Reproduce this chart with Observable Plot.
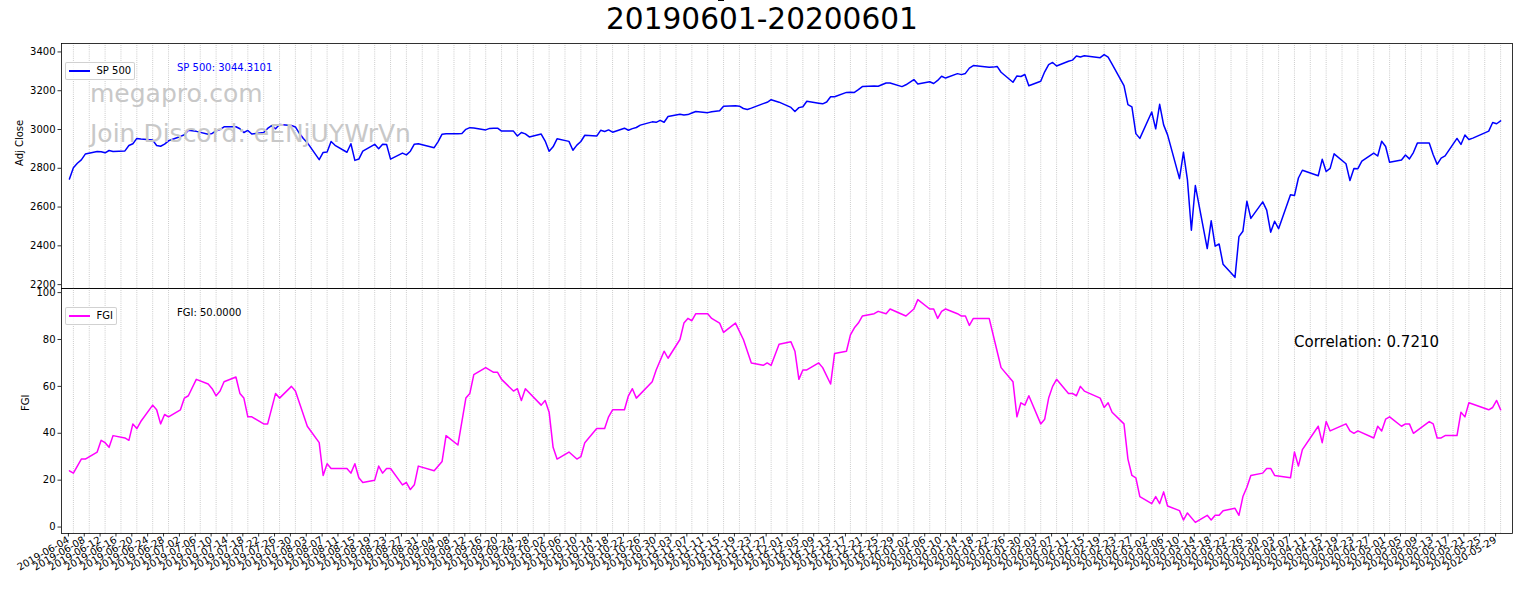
<!DOCTYPE html>
<html>
<head>
<meta charset="utf-8">
<script src="https://cdn.jsdelivr.net/npm/d3@7"></script>
<script src="https://cdn.jsdelivr.net/npm/@observablehq/plot@0.6"></script>
<style>
  html, body { margin: 0; padding: 0; background: #fff; }
  #fig { position: relative; width: 1536px; height: 604px; overflow: hidden; font-family: "DejaVu Sans", sans-serif; }
  .abs { position: absolute; white-space: nowrap; line-height: 1; }
  .legend { position: absolute; border: 1px solid rgba(204,204,204,0.9); border-radius: 2px; background: rgba(255,255,255,0.8); box-sizing: border-box; }
  .legend .ln { position: absolute; left: 3px; width: 21px; height: 2px; }
  .legend .tx { position: absolute; left: 31px; font-size: 10px; line-height: 1; color: #000; }
  .wm { color: #c8c8c8; font-size: 25px; }
  svg { overflow: visible; }
</style>
</head>
<body>
<div id="fig">
  <div class="abs" style="left:717.5px;top:0;width:6.5px;height:1.3px;background:#000"></div>
  <div class="abs" id="title" style="left:606px;top:5px;font-size:29.6px;color:#000"></div>
  <div id="top" style="position:absolute;left:0;top:43px"></div>
  <div id="bottom" style="position:absolute;left:0;top:288px"></div>
  <div class="abs wm" style="left:90px;top:81.3px">megapro.com</div>
  <div class="abs wm" style="left:90px;top:121.3px">Join Discord: eENjUYWrVn</div>
  <div class="abs" id="spNote" style="left:177px;top:62.5px;font-size:10px;color:#0000ff"></div>
  <div class="abs" id="fgiNote" style="left:177px;top:307.5px;font-size:10px;color:#000"></div>
  <div class="abs" id="corrNote" style="left:1294px;top:334.6px;font-size:15px;color:#000"></div>
  <div class="legend" style="left:64.5px;top:62px;width:70px;height:18px">
    <div class="ln" style="top:7px;background:#0000ff"></div>
    <div class="tx" style="top:3.2px">SP 500</div>
  </div>
  <div class="legend" style="left:64.5px;top:307px;width:52px;height:18px">
    <div class="ln" style="top:7px;background:#ff00ff"></div>
    <div class="tx" style="top:3.2px">FGI</div>
  </div>
</div>
<script>
// ---------------- data ----------------
const spDates = [
"2019-06-03","2019-06-04","2019-06-05","2019-06-06","2019-06-07","2019-06-10","2019-06-11","2019-06-12","2019-06-13","2019-06-14",
"2019-06-17","2019-06-18","2019-06-19","2019-06-20","2019-06-21","2019-06-24","2019-06-25","2019-06-26","2019-06-27","2019-06-28",
"2019-07-01","2019-07-02","2019-07-03","2019-07-05","2019-07-08","2019-07-09","2019-07-10","2019-07-11","2019-07-12","2019-07-15",
"2019-07-16","2019-07-17","2019-07-18","2019-07-19","2019-07-22","2019-07-23","2019-07-24","2019-07-25","2019-07-26","2019-07-29",
"2019-07-30","2019-07-31","2019-08-01","2019-08-02","2019-08-05","2019-08-06","2019-08-07","2019-08-08","2019-08-09","2019-08-12",
"2019-08-13","2019-08-14","2019-08-15","2019-08-16","2019-08-19","2019-08-20","2019-08-21","2019-08-22","2019-08-23","2019-08-26",
"2019-08-27","2019-08-28","2019-08-29","2019-08-30","2019-09-03","2019-09-04","2019-09-05","2019-09-06","2019-09-09","2019-09-10",
"2019-09-11","2019-09-12","2019-09-13","2019-09-16","2019-09-17","2019-09-18","2019-09-19","2019-09-20","2019-09-23","2019-09-24",
"2019-09-25","2019-09-26","2019-09-27","2019-09-30","2019-10-01","2019-10-02","2019-10-03","2019-10-04","2019-10-07","2019-10-08",
"2019-10-09","2019-10-10","2019-10-11","2019-10-14","2019-10-15","2019-10-16","2019-10-17","2019-10-18","2019-10-21","2019-10-22",
"2019-10-23","2019-10-24","2019-10-25","2019-10-28","2019-10-29","2019-10-30","2019-10-31","2019-11-01","2019-11-04","2019-11-05",
"2019-11-06","2019-11-07","2019-11-08","2019-11-11","2019-11-12","2019-11-13","2019-11-14","2019-11-15","2019-11-18","2019-11-19",
"2019-11-20","2019-11-21","2019-11-22","2019-11-25","2019-11-26","2019-11-27","2019-11-29","2019-12-02","2019-12-03","2019-12-04",
"2019-12-05","2019-12-06","2019-12-09","2019-12-10","2019-12-11","2019-12-12","2019-12-13","2019-12-16","2019-12-17","2019-12-18",
"2019-12-19","2019-12-20","2019-12-23","2019-12-24","2019-12-26","2019-12-27","2019-12-30","2019-12-31","2020-01-02","2020-01-03",
"2020-01-06","2020-01-07","2020-01-08","2020-01-09","2020-01-10","2020-01-13","2020-01-14","2020-01-15","2020-01-16","2020-01-17",
"2020-01-21","2020-01-22","2020-01-23","2020-01-24","2020-01-27","2020-01-28","2020-01-29","2020-01-30","2020-01-31","2020-02-03",
"2020-02-04","2020-02-05","2020-02-06","2020-02-07","2020-02-10","2020-02-11","2020-02-12","2020-02-13","2020-02-14","2020-02-18",
"2020-02-19","2020-02-20","2020-02-21","2020-02-24","2020-02-25","2020-02-26","2020-02-27","2020-02-28","2020-03-02","2020-03-03",
"2020-03-04","2020-03-05","2020-03-06","2020-03-09","2020-03-10","2020-03-11","2020-03-12","2020-03-13","2020-03-16","2020-03-17",
"2020-03-18","2020-03-19","2020-03-20","2020-03-23","2020-03-24","2020-03-25","2020-03-26","2020-03-27","2020-03-30","2020-03-31",
"2020-04-01","2020-04-02","2020-04-03","2020-04-06","2020-04-07","2020-04-08","2020-04-09","2020-04-13","2020-04-14","2020-04-15",
"2020-04-16","2020-04-17","2020-04-20","2020-04-21","2020-04-22","2020-04-23","2020-04-24","2020-04-27","2020-04-28","2020-04-29",
"2020-04-30","2020-05-01","2020-05-04","2020-05-05","2020-05-06","2020-05-07","2020-05-08","2020-05-11","2020-05-12","2020-05-13",
"2020-05-14","2020-05-15","2020-05-18","2020-05-19","2020-05-20","2020-05-21","2020-05-22","2020-05-26","2020-05-27","2020-05-28",
"2020-05-29"];
const spClose = [
2744.45,2803.27,2826.15,2843.49,2873.34,2886.73,2885.72,2879.84,2891.64,2886.98,
2889.67,2917.75,2926.46,2954.18,2950.46,2945.35,2917.38,2913.78,2924.92,2941.76,
2964.33,2973.01,2995.82,2990.41,2975.95,2979.63,2993.07,2999.91,3013.77,3014.30,
3004.04,2984.42,2995.11,2976.61,2985.03,3005.47,3019.56,3003.67,3025.86,3020.97,
3013.18,2980.38,2953.56,2932.05,2844.74,2881.77,2883.98,2938.09,2918.65,2882.70,
2926.32,2840.60,2847.60,2888.68,2923.65,2900.51,2924.43,2922.95,2847.11,2878.38,
2869.16,2887.94,2924.58,2926.46,2906.27,2937.78,2976.00,2978.71,2978.43,2979.39,
3000.93,3009.57,3007.39,2997.96,3005.70,3006.73,3006.79,2992.07,2991.78,2966.60,
2984.87,2977.62,2961.79,2976.74,2940.25,2887.61,2910.63,2952.01,2938.79,2893.06,
2919.40,2938.13,2970.27,2966.15,2995.68,2989.69,2997.95,2986.20,3006.72,2995.99,
3004.52,3010.29,3022.55,3039.42,3036.89,3046.77,3037.56,3066.91,3078.27,3074.62,
3076.78,3085.18,3093.08,3087.01,3091.84,3094.04,3096.63,3120.46,3122.03,3120.18,
3108.46,3103.54,3110.29,3133.64,3140.52,3153.63,3140.98,3113.87,3093.20,3112.76,
3117.43,3145.91,3135.96,3132.52,3141.63,3168.57,3168.80,3191.45,3192.52,3191.14,
3205.37,3221.22,3224.01,3223.38,3239.91,3240.02,3221.29,3230.78,3257.85,3234.85,
3246.28,3237.18,3253.05,3274.70,3265.35,3288.13,3283.15,3289.29,3316.81,3329.62,
3320.79,3321.75,3325.54,3295.47,3243.63,3276.24,3273.40,3283.66,3225.52,3248.92,
3297.59,3334.69,3345.78,3327.71,3352.09,3357.75,3379.45,3373.94,3380.16,3370.29,
3386.15,3373.23,3337.75,3225.89,3128.21,3116.39,2978.76,2954.22,3090.23,3003.37,
3130.12,3023.94,2972.37,2746.56,2882.23,2741.38,2480.64,2711.02,2386.13,2529.19,
2398.10,2409.39,2304.92,2237.40,2447.33,2475.56,2630.07,2541.47,2626.65,2584.59,
2470.50,2526.90,2488.65,2663.68,2659.41,2749.98,2789.82,2761.63,2846.06,2783.36,
2799.55,2874.56,2823.16,2736.56,2799.31,2797.80,2836.74,2878.48,2863.39,2939.51,
2912.43,2830.71,2842.74,2868.44,2848.42,2881.19,2929.80,2930.32,2870.12,2820.00,
2852.50,2863.70,2953.91,2922.94,2971.61,2948.51,2955.45,2991.77,3036.13,3029.73,
3044.3101];

const fgiDates = [
"2019-06-03","2019-06-04","2019-06-06","2019-06-07","2019-06-10","2019-06-11","2019-06-12","2019-06-13","2019-06-14","2019-06-17",
"2019-06-18","2019-06-19","2019-06-20","2019-06-21","2019-06-24","2019-06-25","2019-06-26","2019-06-27","2019-06-28","2019-07-01",
"2019-07-02","2019-07-03","2019-07-05","2019-07-08","2019-07-09","2019-07-10","2019-07-11","2019-07-12","2019-07-15","2019-07-16",
"2019-07-17","2019-07-18","2019-07-19","2019-07-22","2019-07-23","2019-07-25","2019-07-26","2019-07-29","2019-07-30","2019-08-02",
"2019-08-05","2019-08-06","2019-08-07","2019-08-08","2019-08-12","2019-08-13","2019-08-14","2019-08-15","2019-08-16","2019-08-19",
"2019-08-20","2019-08-21","2019-08-22","2019-08-23","2019-08-26","2019-08-27","2019-08-28","2019-08-29","2019-08-30","2019-09-03",
"2019-09-05","2019-09-06","2019-09-09","2019-09-11","2019-09-12","2019-09-13","2019-09-16","2019-09-18","2019-09-19","2019-09-20",
"2019-09-23","2019-09-24","2019-09-25","2019-09-26","2019-09-30","2019-10-01","2019-10-02","2019-10-03","2019-10-04","2019-10-07",
"2019-10-09","2019-10-10","2019-10-11","2019-10-14","2019-10-16","2019-10-17","2019-10-18","2019-10-21","2019-10-22","2019-10-23",
"2019-10-24","2019-10-28","2019-10-29","2019-10-31","2019-11-01","2019-11-04","2019-11-05","2019-11-06","2019-11-07","2019-11-08",
"2019-11-11","2019-11-12","2019-11-14","2019-11-15","2019-11-18","2019-11-20","2019-11-22","2019-11-25","2019-11-26","2019-11-27",
"2019-11-29","2019-12-02","2019-12-03","2019-12-04","2019-12-05","2019-12-06","2019-12-09","2019-12-10","2019-12-12","2019-12-13",
"2019-12-16","2019-12-17","2019-12-18","2019-12-19","2019-12-20","2019-12-23","2019-12-24","2019-12-26","2019-12-27","2019-12-31",
"2020-01-02","2020-01-03","2020-01-06","2020-01-07","2020-01-08","2020-01-09","2020-01-10","2020-01-13","2020-01-14","2020-01-15",
"2020-01-16","2020-01-17","2020-01-21","2020-01-23","2020-01-24","2020-01-27","2020-01-28","2020-01-29","2020-01-30","2020-01-31",
"2020-02-03","2020-02-04","2020-02-05","2020-02-06","2020-02-07","2020-02-10","2020-02-11","2020-02-12","2020-02-13","2020-02-14",
"2020-02-18","2020-02-19","2020-02-20","2020-02-21","2020-02-24","2020-02-25","2020-02-26","2020-02-27","2020-02-28","2020-03-02",
"2020-03-03","2020-03-04","2020-03-05","2020-03-06","2020-03-09","2020-03-10","2020-03-11","2020-03-13","2020-03-16","2020-03-17",
"2020-03-18","2020-03-19","2020-03-20","2020-03-23","2020-03-24","2020-03-25","2020-03-26","2020-03-27","2020-03-30","2020-03-31",
"2020-04-01","2020-04-02","2020-04-06","2020-04-07","2020-04-08","2020-04-09","2020-04-13","2020-04-14","2020-04-15","2020-04-16",
"2020-04-20","2020-04-21","2020-04-22","2020-04-23","2020-04-27","2020-04-28","2020-04-29","2020-04-30","2020-05-01","2020-05-04",
"2020-05-05","2020-05-06","2020-05-07","2020-05-11","2020-05-12","2020-05-13","2020-05-14","2020-05-15","2020-05-18","2020-05-19",
"2020-05-20","2020-05-21","2020-05-26","2020-05-27","2020-05-28","2020-05-29"];
const fgiValues = [
24,23,29,29,32,37,36,34,39,38,
37,44,42,45,52,50,44,48,47,50,
55,56,63,61,59,56,58,62,64,57,
55,47,47,44,44,57,55,60,58,43,
36,22,27,25,25,23,27,21,19,20,
26,23,25,25,18,19,16,18,26,24,
28,39,35,55,57,65,68,66,66,63,
58,59,54,59,52,54,49,34,29,32,
29,30,36,42,42,47,50,50,56,59,
55,62,67,75,72,80,87,89,88,91,
91,89,87,83,87,80,70,69,70,69,
78,79,75,63,67,67,70,68,61,74,
75,82,85,87,90,91,92,91,93,90,
93,97,93,93,89,92,93,91,90,90,
86,89,89,75,68,62,47,53,52,56,
44,46,55,60,63,57,57,56,60,58,
55,51,53,49,44,29,22,21,13,10,
13,10,15,9,7,3,6,2,5,3,
5,5,7,8,5,13,17,22,23,25,
25,22,21,32,26,33,43,36,45,41,
44,41,40,41,38,43,41,46,47,43,
44,44,40,45,44,38,38,39,39,49,
47,53,50,51,54,50];

const xDomainDates = ["2019-06-01", "2020-06-01"];
const xTickFirst = "2019-06-04", xTickLast = "2020-05-29", xTickStepDays = 4;
const spYTicks = [2200, 2400, 2600, 2800, 3000, 3200, 3400];
const fgiYTicks = [0, 20, 40, 60, 80, 100];
const correlation = 0.7210;
const titleText = "20190601-20200601";

// ---------------- build ----------------
const sp = spDates.map((d, i) => ({date: new Date(d), value: spClose[i]}));
const fgi = fgiDates.map((d, i) => ({date: new Date(d), value: fgiValues[i]}));
const xDomain = xDomainDates.map(d => new Date(d));
const allDays = d3.utcDay.range(new Date(xTickFirst), d3.utcDay.offset(new Date(xTickLast), 1));
const xTicks = allDays.filter((d, i) => i % xTickStepDays === 0);
const fmt = d3.utcFormat("%Y-%m-%d");
const numFmt = d => String(d);

function padded(values) {
  const [lo, hi] = d3.extent(values);
  const m = (hi - lo) * 0.05;
  return [lo - m, hi + m];
}

const W = 1536, ML = 61, MR = 1536 - 1512;
const baseStyle = {fontFamily: "DejaVu Sans", fontSize: "10px", overflow: "visible", background: "transparent", color: "#000"};
const gridOpts = {stroke: "#b0b0b0", strokeOpacity: 1, strokeWidth: 0.8, strokeDasharray: "0.8,1.32"};

const topPlot = Plot.plot({
  width: W, height: 245, marginLeft: ML, marginRight: MR, marginTop: 0, marginBottom: 0,
  style: baseStyle,
  x: {type: "utc", domain: xDomain, axis: null},
  y: {domain: padded(spClose), axis: null},
  marks: [
    Plot.gridX(xTicks, gridOpts),
    Plot.axisY(spYTicks, {tickSize: 3.5, tickPadding: 2.5, fontSize: 10, label: null, strokeWidth: 0.8, tickFormat: numFmt}),
    Plot.line(sp, {x: "date", y: "value", stroke: "#0000ff", strokeWidth: 1.5}),
    Plot.frame({stroke: "#000", strokeWidth: 0.8}),
    Plot.text(["Adj Close"], {frameAnchor: "left", dx: -42, rotate: -90, fontSize: 10, fill: "#000"})
  ]
});
document.getElementById("top").appendChild(topPlot);

const bottomPlot = Plot.plot({
  width: W, height: 316, marginLeft: ML, marginRight: MR, marginTop: 0, marginBottom: 71,
  style: baseStyle,
  x: {type: "utc", domain: xDomain, axis: null},
  y: {domain: padded(fgiValues), axis: null},
  marks: [
    Plot.gridX(xTicks, gridOpts),
    Plot.axisY(fgiYTicks, {tickSize: 3.5, tickPadding: 2.5, fontSize: 10, label: null, strokeWidth: 0.8, tickFormat: numFmt}),
    Plot.axisX(xTicks, {tickSize: 3.5, tickPadding: 2, fontSize: 10, tickRotate: -30, tickFormat: fmt, label: null, strokeWidth: 0.8, dx: -5}),
    Plot.line(fgi, {x: "date", y: "value", stroke: "#ff00ff", strokeWidth: 1.5}),
    Plot.frame({stroke: "#000", strokeWidth: 0.8}),
    Plot.text(["FGI"], {frameAnchor: "left", dx: -36, rotate: -90, fontSize: 10, fill: "#000"})
  ]
});
document.getElementById("bottom").appendChild(bottomPlot);

document.getElementById("title").textContent = titleText;
document.getElementById("spNote").textContent = "SP 500: " + spClose[spClose.length - 1].toFixed(4);
document.getElementById("fgiNote").textContent = "FGI: " + fgiValues[fgiValues.length - 1].toFixed(4);
document.getElementById("corrNote").textContent = "Correlation: " + correlation.toFixed(4);
</script>
</body>
</html>
